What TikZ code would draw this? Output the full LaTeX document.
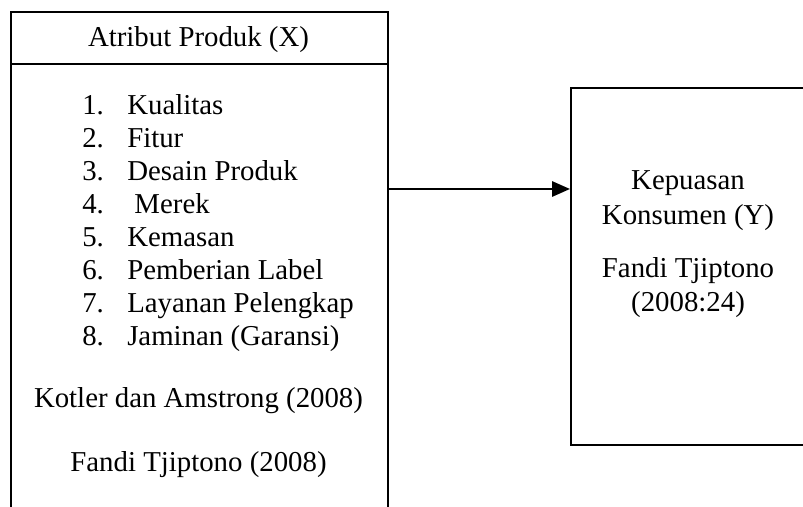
\documentclass[tikz,border=0pt]{standalone}
\usepackage{fontspec}
\setmainfont{Liberation Serif}
\usetikzlibrary{arrows.meta}

\tikzset{
  box/.style={draw, line width=1.4pt, rectangle, anchor=north west, inner sep=0pt},
  item/.style={anchor=base west, inner sep=0pt},
  txt/.style={anchor=base, inner sep=0pt},
}

\begin{document}
\begin{tikzpicture}[font=\fontsize{20.5}{24}\selectfont]
  % picture area 803 x 506 px, 40 px per cm
  \clip (0,0) rectangle (20.075,12.65);

  \node[box, minimum width=9.425cm, minimum height=13cm] (boxX) at (0.25,12.375) {};
  \node[box, minimum width=5.9cm, minimum height=8.925cm] (boxY) at (14.25,10.475) {};

  \coordinate (div) at (0,11.05);
  \coordinate (arr) at (0,7.925);
  \draw[line width=1.4pt] (boxX.west |- div) -- (boxX.east |- div);
  \draw[line width=1.8pt, -{Triangle[length=0.45cm,width=0.38cm]}] (boxX.east |- arr) -- (boxY.west |- arr);

  \node[txt] (title) at (4.9625,11.475) {Atribut Produk (X)};

  \node[item] (num1) at (2.05,9.775) {1.};
  \node[item] (ind1) at (3.175,9.775) {Kualitas};
  \node[item] (num2) at (2.05,8.95) {2.};
  \node[item] (ind2) at (3.175,8.95) {Fitur};
  \node[item] (num3) at (2.05,8.125) {3.};
  \node[item] (ind3) at (3.175,8.125) {Desain Produk};
  \node[item] (num4) at (2.05,7.3) {4.};
  \node[item] (ind4) at (3.175,7.3) {\ Merek};
  \node[item] (num5) at (2.05,6.475) {5.};
  \node[item] (ind5) at (3.175,6.475) {Kemasan};
  \node[item] (num6) at (2.05,5.65) {6.};
  \node[item] (ind6) at (3.175,5.65) {Pemberian Label};
  \node[item] (num7) at (2.05,4.825) {7.};
  \node[item] (ind7) at (3.175,4.825) {Layanan Pelengkap};
  \node[item] (num8) at (2.05,4.0) {8.};
  \node[item] (ind8) at (3.175,4.0) {Jaminan (Garansi)};

  \node[txt] (refX1) at (4.9625,2.45) {Kotler dan Amstrong (2008)};
  \node[txt] (refX2) at (4.9625,0.85) {Fandi Tjiptono (2008)};

  \node[txt] (varY1) at (17.2,7.9) {Kepuasan};
  \node[txt] (varY2) at (17.2,7.025) {Konsumen (Y)};
  \node[txt] (refY1) at (17.2,5.7) {Fandi Tjiptono};
  \node[txt] (refY2) at (17.2,4.85) {(2008:24)};
\end{tikzpicture}
\end{document}
